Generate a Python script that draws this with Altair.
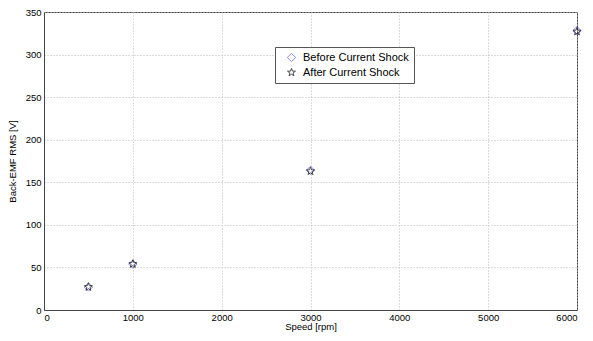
import altair as alt
import pandas as pd

speeds = [500, 1000, 3000, 6000]
before = [27, 54, 164, 328]
after = [27, 54, 163, 327]
series = ["Before Current Shock", "After Current Shock"]

rows = []
for s, v in zip(speeds, before):
    rows.append({"speed": s, "emf": v, "series": series[0]})
for s, v in zip(speeds, after):
    rows.append({"speed": s, "emf": v, "series": series[1]})
df = pd.DataFrame(rows)

star = "M0,-1L0.24,-0.33L0.95,-0.31L0.38,0.12L0.59,0.81L0,0.4L-0.59,0.81L-0.38,0.12L-0.95,-0.31L-0.24,-0.33Z"

font = "Liberation Sans"

chart = alt.Chart(df).mark_point(filled=False, strokeWidth=1, size=70).encode(
    x=alt.X("speed:Q", title="Speed [rpm]",
            scale=alt.Scale(domain=[0, 6000], nice=False),
            axis=alt.Axis(values=[0, 1000, 2000, 3000, 4000, 5000, 6000], format="d")),
    y=alt.Y("emf:Q", title="Back-EMF RMS [V]",
            scale=alt.Scale(domain=[0, 350], nice=False),
            axis=alt.Axis(values=[0, 50, 100, 150, 200, 250, 300, 350], format="d")),
    color=alt.Color("series:N", scale=alt.Scale(domain=series, range=["#5555ee", "#000000"]),
                    legend=alt.Legend(title=None, orient="none", legendX=231, legendY=35,
                                      strokeColor="#555555", fillColor="white", padding=5,
                                      labelFont=font, labelFontSize=11, labelColor="black",
                                      symbolStrokeWidth=1, symbolSize=70, rowPadding=2,
                                      symbolOffset=6, labelOffset=6)),
    shape=alt.Shape("series:N", scale=alt.Scale(domain=series, range=["diamond", star]),
                    legend=alt.Legend(title=None, orient="none", legendX=231, legendY=35)),
).properties(
    width=533, height=298,
    autosize=alt.AutoSizeParams(type="none"),
    padding={"left": 36, "top": 4, "right": 8, "bottom": 23},
).configure_view(
    stroke="#444444", strokeWidth=1
).configure_axis(
    grid=True, gridDash=[1, 2], gridColor="#bbbbbb", gridWidth=1,
    domainColor="#444444", tickColor="#444444", tickSize=0,
    labelFont=font, labelFontSize=9.5, labelColor="black",
    titleFont=font, titleFontSize=9.5, titleFontWeight="normal", titleColor="black",
).configure_axisX(
    titlePadding=0, labelPadding=2
).configure_axisY(
    titlePadding=8, labelPadding=3
)

chart.save("out.html", embed_options={"renderer": "svg", "actions": False})
